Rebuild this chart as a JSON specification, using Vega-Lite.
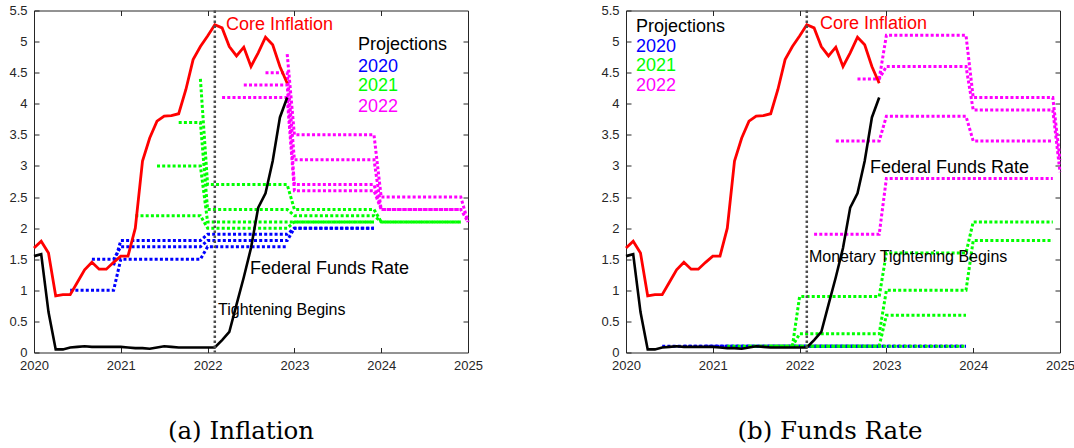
{
  "$schema": "https://vega.github.io/schema/vega-lite/v6.json",
  "background": "white",
  "padding": {"left": 8, "top": 3.5, "right": 0, "bottom": 0},
  "autosize": {"type": "pad"},
  "config": {
    "view": {"stroke": "#262626", "strokeWidth": 1},
    "font": "Liberation Sans",
    "axis": {"domain": false, "grid": false, "title": null, "tickSize": -5, "tickColor": "#262626", "tickWidth": 1, "labelFont": "Liberation Sans", "labelFontSize": 13, "labelColor": "#262626", "labelFlush": false, "labelOverlap": false}
  },
  "datasets": {
    "core": [
      {"t": 2020.0, "v": 1.68}, {"t": 2020.083, "v": 1.79}, {"t": 2020.167, "v": 1.6}, {"t": 2020.25, "v": 0.91},
      {"t": 2020.333, "v": 0.93}, {"t": 2020.417, "v": 0.93}, {"t": 2020.5, "v": 1.13}, {"t": 2020.583, "v": 1.33},
      {"t": 2020.667, "v": 1.45}, {"t": 2020.75, "v": 1.34}, {"t": 2020.833, "v": 1.34}, {"t": 2020.917, "v": 1.45},
      {"t": 2021.0, "v": 1.55}, {"t": 2021.083, "v": 1.55}, {"t": 2021.167, "v": 2.0}, {"t": 2021.25, "v": 3.08},
      {"t": 2021.333, "v": 3.45}, {"t": 2021.417, "v": 3.72}, {"t": 2021.5, "v": 3.8}, {"t": 2021.583, "v": 3.81},
      {"t": 2021.667, "v": 3.84}, {"t": 2021.75, "v": 4.23}, {"t": 2021.833, "v": 4.71}, {"t": 2021.917, "v": 4.92},
      {"t": 2022.0, "v": 5.09}, {"t": 2022.083, "v": 5.27}, {"t": 2022.167, "v": 5.22}, {"t": 2022.25, "v": 4.92},
      {"t": 2022.333, "v": 4.77}, {"t": 2022.417, "v": 4.91}, {"t": 2022.5, "v": 4.6}, {"t": 2022.583, "v": 4.82},
      {"t": 2022.667, "v": 5.07}, {"t": 2022.75, "v": 4.95}, {"t": 2022.833, "v": 4.6}, {"t": 2022.917, "v": 4.33}
    ],
    "ffr": [
      {"t": 2020.0, "v": 1.55}, {"t": 2020.083, "v": 1.58}, {"t": 2020.167, "v": 0.65}, {"t": 2020.25, "v": 0.05},
      {"t": 2020.333, "v": 0.05}, {"t": 2020.417, "v": 0.08}, {"t": 2020.5, "v": 0.09}, {"t": 2020.583, "v": 0.1},
      {"t": 2020.667, "v": 0.09}, {"t": 2020.75, "v": 0.09}, {"t": 2020.833, "v": 0.09}, {"t": 2020.917, "v": 0.09},
      {"t": 2021.0, "v": 0.09}, {"t": 2021.083, "v": 0.08}, {"t": 2021.167, "v": 0.07}, {"t": 2021.25, "v": 0.07},
      {"t": 2021.333, "v": 0.06}, {"t": 2021.417, "v": 0.08}, {"t": 2021.5, "v": 0.1}, {"t": 2021.583, "v": 0.09},
      {"t": 2021.667, "v": 0.08}, {"t": 2021.75, "v": 0.08}, {"t": 2021.833, "v": 0.08}, {"t": 2021.917, "v": 0.08},
      {"t": 2022.0, "v": 0.08}, {"t": 2022.083, "v": 0.08}, {"t": 2022.167, "v": 0.2}, {"t": 2022.25, "v": 0.33},
      {"t": 2022.333, "v": 0.77}, {"t": 2022.417, "v": 1.21}, {"t": 2022.5, "v": 1.68}, {"t": 2022.583, "v": 2.33},
      {"t": 2022.667, "v": 2.56}, {"t": 2022.75, "v": 3.08}, {"t": 2022.833, "v": 3.78}, {"t": 2022.917, "v": 4.1}
    ],
    "proj": [
      {"p": "a", "g": "2020", "vin": "2020-06", "t": 2020.417, "v": 1.0},
      {"p": "a", "g": "2020", "vin": "2020-06", "t": 2020.917, "v": 1.0},
      {"p": "a", "g": "2020", "vin": "2020-06", "t": 2021.0, "v": 1.5},
      {"p": "a", "g": "2020", "vin": "2020-06", "t": 2021.917, "v": 1.5},
      {"p": "a", "g": "2020", "vin": "2020-06", "t": 2022.0, "v": 1.7},
      {"p": "a", "g": "2020", "vin": "2020-06", "t": 2022.917, "v": 1.7},
      {"p": "a", "g": "2020", "vin": "2020-09", "t": 2020.667, "v": 1.5},
      {"p": "a", "g": "2020", "vin": "2020-09", "t": 2020.917, "v": 1.5},
      {"p": "a", "g": "2020", "vin": "2020-09", "t": 2021.0, "v": 1.7},
      {"p": "a", "g": "2020", "vin": "2020-09", "t": 2021.917, "v": 1.7},
      {"p": "a", "g": "2020", "vin": "2020-09", "t": 2022.0, "v": 1.8},
      {"p": "a", "g": "2020", "vin": "2020-09", "t": 2022.917, "v": 1.8},
      {"p": "a", "g": "2020", "vin": "2020-09", "t": 2023.0, "v": 2.0},
      {"p": "a", "g": "2020", "vin": "2020-09", "t": 2023.917, "v": 2.0},
      {"p": "a", "g": "2020", "vin": "2020-12", "t": 2020.917, "v": 1.4},
      {"p": "a", "g": "2020", "vin": "2020-12", "t": 2021.0, "v": 1.8},
      {"p": "a", "g": "2020", "vin": "2020-12", "t": 2021.917, "v": 1.8},
      {"p": "a", "g": "2020", "vin": "2020-12", "t": 2022.0, "v": 1.9},
      {"p": "a", "g": "2020", "vin": "2020-12", "t": 2022.917, "v": 1.9},
      {"p": "a", "g": "2020", "vin": "2020-12", "t": 2023.0, "v": 2.0},
      {"p": "a", "g": "2020", "vin": "2020-12", "t": 2023.917, "v": 2.0},
      {"p": "a", "g": "2021", "vin": "2021-03", "t": 2021.167, "v": 2.2},
      {"p": "a", "g": "2021", "vin": "2021-03", "t": 2021.917, "v": 2.2},
      {"p": "a", "g": "2021", "vin": "2021-03", "t": 2022.0, "v": 2.0},
      {"p": "a", "g": "2021", "vin": "2021-03", "t": 2022.917, "v": 2.0},
      {"p": "a", "g": "2021", "vin": "2021-03", "t": 2023.0, "v": 2.1},
      {"p": "a", "g": "2021", "vin": "2021-03", "t": 2023.917, "v": 2.1},
      {"p": "a", "g": "2021", "vin": "2021-06", "t": 2021.417, "v": 3.0},
      {"p": "a", "g": "2021", "vin": "2021-06", "t": 2021.917, "v": 3.0},
      {"p": "a", "g": "2021", "vin": "2021-06", "t": 2022.0, "v": 2.1},
      {"p": "a", "g": "2021", "vin": "2021-06", "t": 2022.917, "v": 2.1},
      {"p": "a", "g": "2021", "vin": "2021-06", "t": 2023.0, "v": 2.1},
      {"p": "a", "g": "2021", "vin": "2021-06", "t": 2023.917, "v": 2.1},
      {"p": "a", "g": "2021", "vin": "2021-09", "t": 2021.667, "v": 3.7},
      {"p": "a", "g": "2021", "vin": "2021-09", "t": 2021.917, "v": 3.7},
      {"p": "a", "g": "2021", "vin": "2021-09", "t": 2022.0, "v": 2.3},
      {"p": "a", "g": "2021", "vin": "2021-09", "t": 2022.917, "v": 2.3},
      {"p": "a", "g": "2021", "vin": "2021-09", "t": 2023.0, "v": 2.2},
      {"p": "a", "g": "2021", "vin": "2021-09", "t": 2023.917, "v": 2.2},
      {"p": "a", "g": "2021", "vin": "2021-09", "t": 2024.0, "v": 2.1},
      {"p": "a", "g": "2021", "vin": "2021-09", "t": 2024.917, "v": 2.1},
      {"p": "a", "g": "2021", "vin": "2021-12", "t": 2021.917, "v": 4.4},
      {"p": "a", "g": "2021", "vin": "2021-12", "t": 2022.0, "v": 2.7},
      {"p": "a", "g": "2021", "vin": "2021-12", "t": 2022.917, "v": 2.7},
      {"p": "a", "g": "2021", "vin": "2021-12", "t": 2023.0, "v": 2.3},
      {"p": "a", "g": "2021", "vin": "2021-12", "t": 2023.917, "v": 2.3},
      {"p": "a", "g": "2021", "vin": "2021-12", "t": 2024.0, "v": 2.1},
      {"p": "a", "g": "2021", "vin": "2021-12", "t": 2024.917, "v": 2.1},
      {"p": "a", "g": "2022", "vin": "2022-03", "t": 2022.167, "v": 4.1},
      {"p": "a", "g": "2022", "vin": "2022-03", "t": 2022.917, "v": 4.1},
      {"p": "a", "g": "2022", "vin": "2022-03", "t": 2023.0, "v": 2.6},
      {"p": "a", "g": "2022", "vin": "2022-03", "t": 2023.917, "v": 2.6},
      {"p": "a", "g": "2022", "vin": "2022-03", "t": 2024.0, "v": 2.3},
      {"p": "a", "g": "2022", "vin": "2022-03", "t": 2024.917, "v": 2.3},
      {"p": "a", "g": "2022", "vin": "2022-06", "t": 2022.417, "v": 4.3},
      {"p": "a", "g": "2022", "vin": "2022-06", "t": 2022.917, "v": 4.3},
      {"p": "a", "g": "2022", "vin": "2022-06", "t": 2023.0, "v": 2.7},
      {"p": "a", "g": "2022", "vin": "2022-06", "t": 2023.917, "v": 2.7},
      {"p": "a", "g": "2022", "vin": "2022-06", "t": 2024.0, "v": 2.3},
      {"p": "a", "g": "2022", "vin": "2022-06", "t": 2024.917, "v": 2.3},
      {"p": "a", "g": "2022", "vin": "2022-09", "t": 2022.667, "v": 4.5},
      {"p": "a", "g": "2022", "vin": "2022-09", "t": 2022.917, "v": 4.5},
      {"p": "a", "g": "2022", "vin": "2022-09", "t": 2023.0, "v": 3.1},
      {"p": "a", "g": "2022", "vin": "2022-09", "t": 2023.917, "v": 3.1},
      {"p": "a", "g": "2022", "vin": "2022-09", "t": 2024.0, "v": 2.3},
      {"p": "a", "g": "2022", "vin": "2022-09", "t": 2024.917, "v": 2.3},
      {"p": "a", "g": "2022", "vin": "2022-09", "t": 2025.0, "v": 2.1},
      {"p": "a", "g": "2022", "vin": "2022-12", "t": 2022.917, "v": 4.8},
      {"p": "a", "g": "2022", "vin": "2022-12", "t": 2023.0, "v": 3.5},
      {"p": "a", "g": "2022", "vin": "2022-12", "t": 2023.917, "v": 3.5},
      {"p": "a", "g": "2022", "vin": "2022-12", "t": 2024.0, "v": 2.5},
      {"p": "a", "g": "2022", "vin": "2022-12", "t": 2024.917, "v": 2.5},
      {"p": "a", "g": "2022", "vin": "2022-12", "t": 2025.0, "v": 2.1},

      {"p": "b", "g": "2020", "vin": "2020-06", "t": 2020.417, "v": 0.1},
      {"p": "b", "g": "2020", "vin": "2020-06", "t": 2022.917, "v": 0.1},
      {"p": "b", "g": "2020", "vin": "2020-09", "t": 2020.667, "v": 0.1},
      {"p": "b", "g": "2020", "vin": "2020-09", "t": 2023.917, "v": 0.1},
      {"p": "b", "g": "2020", "vin": "2020-12", "t": 2020.917, "v": 0.1},
      {"p": "b", "g": "2020", "vin": "2020-12", "t": 2023.917, "v": 0.1},
      {"p": "b", "g": "2021", "vin": "2021-03", "t": 2021.167, "v": 0.1},
      {"p": "b", "g": "2021", "vin": "2021-03", "t": 2023.917, "v": 0.1},
      {"p": "b", "g": "2021", "vin": "2021-06", "t": 2021.417, "v": 0.1},
      {"p": "b", "g": "2021", "vin": "2021-06", "t": 2022.917, "v": 0.1},
      {"p": "b", "g": "2021", "vin": "2021-06", "t": 2023.0, "v": 0.6},
      {"p": "b", "g": "2021", "vin": "2021-06", "t": 2023.917, "v": 0.6},
      {"p": "b", "g": "2021", "vin": "2021-09", "t": 2021.667, "v": 0.1},
      {"p": "b", "g": "2021", "vin": "2021-09", "t": 2021.917, "v": 0.1},
      {"p": "b", "g": "2021", "vin": "2021-09", "t": 2022.0, "v": 0.3},
      {"p": "b", "g": "2021", "vin": "2021-09", "t": 2022.917, "v": 0.3},
      {"p": "b", "g": "2021", "vin": "2021-09", "t": 2023.0, "v": 1.0},
      {"p": "b", "g": "2021", "vin": "2021-09", "t": 2023.917, "v": 1.0},
      {"p": "b", "g": "2021", "vin": "2021-09", "t": 2024.0, "v": 1.8},
      {"p": "b", "g": "2021", "vin": "2021-09", "t": 2024.917, "v": 1.8},
      {"p": "b", "g": "2021", "vin": "2021-12", "t": 2021.917, "v": 0.1},
      {"p": "b", "g": "2021", "vin": "2021-12", "t": 2022.0, "v": 0.9},
      {"p": "b", "g": "2021", "vin": "2021-12", "t": 2022.917, "v": 0.9},
      {"p": "b", "g": "2021", "vin": "2021-12", "t": 2023.0, "v": 1.6},
      {"p": "b", "g": "2021", "vin": "2021-12", "t": 2023.917, "v": 1.6},
      {"p": "b", "g": "2021", "vin": "2021-12", "t": 2024.0, "v": 2.1},
      {"p": "b", "g": "2021", "vin": "2021-12", "t": 2024.917, "v": 2.1},
      {"p": "b", "g": "2022", "vin": "2022-03", "t": 2022.167, "v": 1.9},
      {"p": "b", "g": "2022", "vin": "2022-03", "t": 2022.917, "v": 1.9},
      {"p": "b", "g": "2022", "vin": "2022-03", "t": 2023.0, "v": 2.8},
      {"p": "b", "g": "2022", "vin": "2022-03", "t": 2024.917, "v": 2.8},
      {"p": "b", "g": "2022", "vin": "2022-06", "t": 2022.417, "v": 3.4},
      {"p": "b", "g": "2022", "vin": "2022-06", "t": 2022.917, "v": 3.4},
      {"p": "b", "g": "2022", "vin": "2022-06", "t": 2023.0, "v": 3.8},
      {"p": "b", "g": "2022", "vin": "2022-06", "t": 2023.917, "v": 3.8},
      {"p": "b", "g": "2022", "vin": "2022-06", "t": 2024.0, "v": 3.4},
      {"p": "b", "g": "2022", "vin": "2022-06", "t": 2024.917, "v": 3.4},
      {"p": "b", "g": "2022", "vin": "2022-09", "t": 2022.667, "v": 4.4},
      {"p": "b", "g": "2022", "vin": "2022-09", "t": 2022.917, "v": 4.4},
      {"p": "b", "g": "2022", "vin": "2022-09", "t": 2023.0, "v": 4.6},
      {"p": "b", "g": "2022", "vin": "2022-09", "t": 2023.917, "v": 4.6},
      {"p": "b", "g": "2022", "vin": "2022-09", "t": 2024.0, "v": 3.9},
      {"p": "b", "g": "2022", "vin": "2022-09", "t": 2024.917, "v": 3.9},
      {"p": "b", "g": "2022", "vin": "2022-09", "t": 2025.0, "v": 2.9},
      {"p": "b", "g": "2022", "vin": "2022-12", "t": 2022.917, "v": 4.4},
      {"p": "b", "g": "2022", "vin": "2022-12", "t": 2023.0, "v": 5.1},
      {"p": "b", "g": "2022", "vin": "2022-12", "t": 2023.917, "v": 5.1},
      {"p": "b", "g": "2022", "vin": "2022-12", "t": 2024.0, "v": 4.1},
      {"p": "b", "g": "2022", "vin": "2022-12", "t": 2024.917, "v": 4.1},
      {"p": "b", "g": "2022", "vin": "2022-12", "t": 2025.0, "v": 3.1}
    ]
  },
  "spacing": 158,
  "bounds": "flush",
  "hconcat": [
    {
      "width": 434, "height": 342,
      "title": {"text": "(a) Inflation", "orient": "bottom", "frame": "group", "font": "DejaVu Serif", "fontSize": 24.5, "fontWeight": "normal", "color": "black", "offset": 47, "dx": -10},
      "resolve": {"axis": {"x": "independent", "y": "independent"}},
      "layer": [
        {
          "data": {"name": "proj"},
          "transform": [{"filter": "datum.p === 'a'"}],
          "mark": {"type": "line", "strokeWidth": 3, "strokeDash": [3, 2.2]},
          "encoding": {
            "x": {"field": "t", "type": "quantitative", "scale": {"domain": [2020, 2025], "nice": false, "zero": false}, "axis": {"orient": "bottom", "values": [2020, 2021, 2022, 2023, 2024, 2025], "format": "d", "labelPadding": 12}},
            "y": {"field": "v", "type": "quantitative", "scale": {"domain": [0, 5.5], "nice": false}, "axis": {"orient": "left", "values": [0, 0.5, 1, 1.5, 2, 2.5, 3, 3.5, 4, 4.5, 5, 5.5], "format": "~g", "labelPadding": 12}},
            "color": {"field": "g", "type": "nominal", "scale": {"domain": ["2020", "2021", "2022"], "range": ["#0000ff", "#00ff00", "#ff00ff"]}, "legend": null},
            "detail": {"field": "vin"}
          }
        },
        {
          "data": {"name": "core"},
          "mark": {"type": "line", "color": "#ff0000", "strokeWidth": 2.8},
          "encoding": {
            "x": {"field": "t", "type": "quantitative", "axis": {"orient": "top", "labels": false, "values": [2021, 2022, 2023, 2024]}},
            "y": {"field": "v", "type": "quantitative", "axis": {"orient": "right", "labels": false, "values": [0.5, 1, 1.5, 2, 2.5, 3, 3.5, 4, 4.5, 5]}}
          }
        },
        {
          "data": {"name": "ffr"},
          "mark": {"type": "line", "color": "#000000", "strokeWidth": 2.6},
          "encoding": {
            "x": {"field": "t", "type": "quantitative", "axis": null},
            "y": {"field": "v", "type": "quantitative", "axis": null}
          }
        },
        {
          "data": {"values": [{}]},
          "mark": {"type": "rule", "color": "#4d4d4d", "strokeWidth": 2.5, "strokeDash": [2.5, 2.5]},
          "encoding": {"x": {"datum": 2022.083, "type": "quantitative", "axis": null}}
        },
        {
          "data": {"values": [{}]},
          "mark": {"type": "text", "text": "Core Inflation", "color": "#ff0000", "font": "Liberation Sans", "fontSize": 18, "align": "left", "baseline": "middle"},
          "encoding": {"x": {"datum": 2022.212, "type": "quantitative", "axis": null}, "y": {"datum": 5.27, "type": "quantitative", "axis": null}}
        },
        {
          "data": {"values": [{}]},
          "mark": {"type": "text", "text": "Projections", "color": "#000000", "font": "Liberation Sans", "fontSize": 18, "align": "left", "baseline": "middle"},
          "encoding": {"x": {"datum": 2023.733, "type": "quantitative", "axis": null}, "y": {"datum": 4.95, "type": "quantitative", "axis": null}}
        },
        {
          "data": {"values": [{}]},
          "mark": {"type": "text", "text": "2020", "color": "#0000ff", "font": "Liberation Sans", "fontSize": 18, "align": "left", "baseline": "middle"},
          "encoding": {"x": {"datum": 2023.733, "type": "quantitative", "axis": null}, "y": {"datum": 4.59, "type": "quantitative", "axis": null}}
        },
        {
          "data": {"values": [{}]},
          "mark": {"type": "text", "text": "2021", "color": "#00ff00", "font": "Liberation Sans", "fontSize": 18, "align": "left", "baseline": "middle"},
          "encoding": {"x": {"datum": 2023.733, "type": "quantitative", "axis": null}, "y": {"datum": 4.28, "type": "quantitative", "axis": null}}
        },
        {
          "data": {"values": [{}]},
          "mark": {"type": "text", "text": "2022", "color": "#ff00ff", "font": "Liberation Sans", "fontSize": 18, "align": "left", "baseline": "middle"},
          "encoding": {"x": {"datum": 2023.733, "type": "quantitative", "axis": null}, "y": {"datum": 3.95, "type": "quantitative", "axis": null}}
        },
        {
          "data": {"values": [{}]},
          "mark": {"type": "text", "text": "Federal Funds Rate", "color": "#000000", "font": "Liberation Sans", "fontSize": 18, "align": "left", "baseline": "middle"},
          "encoding": {"x": {"datum": 2022.488, "type": "quantitative", "axis": null}, "y": {"datum": 1.35, "type": "quantitative", "axis": null}}
        },
        {
          "data": {"values": [{}]},
          "mark": {"type": "text", "text": "Tightening Begins", "color": "#000000", "font": "Liberation Sans", "fontSize": 16, "align": "left", "baseline": "middle"},
          "encoding": {"x": {"datum": 2022.12, "type": "quantitative", "axis": null}, "y": {"datum": 0.69, "type": "quantitative", "axis": null}}
        }
      ]
    },
    {
      "width": 434, "height": 342,
      "title": {"text": "(b) Funds Rate", "orient": "bottom", "frame": "group", "font": "DejaVu Serif", "fontSize": 24.5, "fontWeight": "normal", "color": "black", "offset": 47, "dx": -13},
      "resolve": {"axis": {"x": "independent", "y": "independent"}},
      "layer": [
        {
          "data": {"name": "proj"},
          "transform": [{"filter": "datum.p === 'b'"}],
          "mark": {"type": "line", "strokeWidth": 3, "strokeDash": [3, 2.2]},
          "encoding": {
            "x": {"field": "t", "type": "quantitative", "scale": {"domain": [2020, 2025], "nice": false, "zero": false}, "axis": {"orient": "bottom", "values": [2020, 2021, 2022, 2023, 2024, 2025], "format": "d", "labelPadding": 12}},
            "y": {"field": "v", "type": "quantitative", "scale": {"domain": [0, 5.5], "nice": false}, "axis": {"orient": "left", "values": [0, 0.5, 1, 1.5, 2, 2.5, 3, 3.5, 4, 4.5, 5, 5.5], "format": "~g", "labelPadding": 12}},
            "color": {"field": "g", "type": "nominal", "scale": {"domain": ["2020", "2021", "2022"], "range": ["#0000ff", "#00ff00", "#ff00ff"]}, "legend": null},
            "detail": {"field": "vin"}
          }
        },
        {
          "data": {"name": "core"},
          "mark": {"type": "line", "color": "#ff0000", "strokeWidth": 2.8},
          "encoding": {
            "x": {"field": "t", "type": "quantitative", "axis": {"orient": "top", "labels": false, "values": [2021, 2022, 2023, 2024]}},
            "y": {"field": "v", "type": "quantitative", "axis": {"orient": "right", "labels": false, "values": [0.5, 1, 1.5, 2, 2.5, 3, 3.5, 4, 4.5, 5]}}
          }
        },
        {
          "data": {"name": "ffr"},
          "mark": {"type": "line", "color": "#000000", "strokeWidth": 2.6},
          "encoding": {
            "x": {"field": "t", "type": "quantitative", "axis": null},
            "y": {"field": "v", "type": "quantitative", "axis": null}
          }
        },
        {
          "data": {"values": [{}]},
          "mark": {"type": "rule", "color": "#4d4d4d", "strokeWidth": 2.5, "strokeDash": [2.5, 2.5]},
          "encoding": {"x": {"datum": 2022.083, "type": "quantitative", "axis": null}}
        },
        {
          "data": {"values": [{}]},
          "mark": {"type": "text", "text": "Core Inflation", "color": "#ff0000", "font": "Liberation Sans", "fontSize": 18, "align": "left", "baseline": "middle"},
          "encoding": {"x": {"datum": 2022.235, "type": "quantitative", "axis": null}, "y": {"datum": 5.29, "type": "quantitative", "axis": null}}
        },
        {
          "data": {"values": [{}]},
          "mark": {"type": "text", "text": "Projections", "color": "#000000", "font": "Liberation Sans", "fontSize": 18, "align": "left", "baseline": "middle"},
          "encoding": {"x": {"datum": 2020.115, "type": "quantitative", "axis": null}, "y": {"datum": 5.24, "type": "quantitative", "axis": null}}
        },
        {
          "data": {"values": [{}]},
          "mark": {"type": "text", "text": "2020", "color": "#0000ff", "font": "Liberation Sans", "fontSize": 18, "align": "left", "baseline": "middle"},
          "encoding": {"x": {"datum": 2020.115, "type": "quantitative", "axis": null}, "y": {"datum": 4.92, "type": "quantitative", "axis": null}}
        },
        {
          "data": {"values": [{}]},
          "mark": {"type": "text", "text": "2021", "color": "#00ff00", "font": "Liberation Sans", "fontSize": 18, "align": "left", "baseline": "middle"},
          "encoding": {"x": {"datum": 2020.115, "type": "quantitative", "axis": null}, "y": {"datum": 4.61, "type": "quantitative", "axis": null}}
        },
        {
          "data": {"values": [{}]},
          "mark": {"type": "text", "text": "2022", "color": "#ff00ff", "font": "Liberation Sans", "fontSize": 18, "align": "left", "baseline": "middle"},
          "encoding": {"x": {"datum": 2020.115, "type": "quantitative", "axis": null}, "y": {"datum": 4.28, "type": "quantitative", "axis": null}}
        },
        {
          "data": {"values": [{}]},
          "mark": {"type": "text", "text": "Federal Funds Rate", "color": "#000000", "font": "Liberation Sans", "fontSize": 18, "align": "left", "baseline": "middle"},
          "encoding": {"x": {"datum": 2022.81, "type": "quantitative", "axis": null}, "y": {"datum": 2.97, "type": "quantitative", "axis": null}}
        },
        {
          "data": {"values": [{}]},
          "mark": {"type": "text", "text": "Monetary Tightening Begins", "color": "#000000", "font": "Liberation Sans", "fontSize": 16, "align": "left", "baseline": "middle"},
          "encoding": {"x": {"datum": 2022.108, "type": "quantitative", "axis": null}, "y": {"datum": 1.54, "type": "quantitative", "axis": null}}
        }
      ]
    }
  ]
}
